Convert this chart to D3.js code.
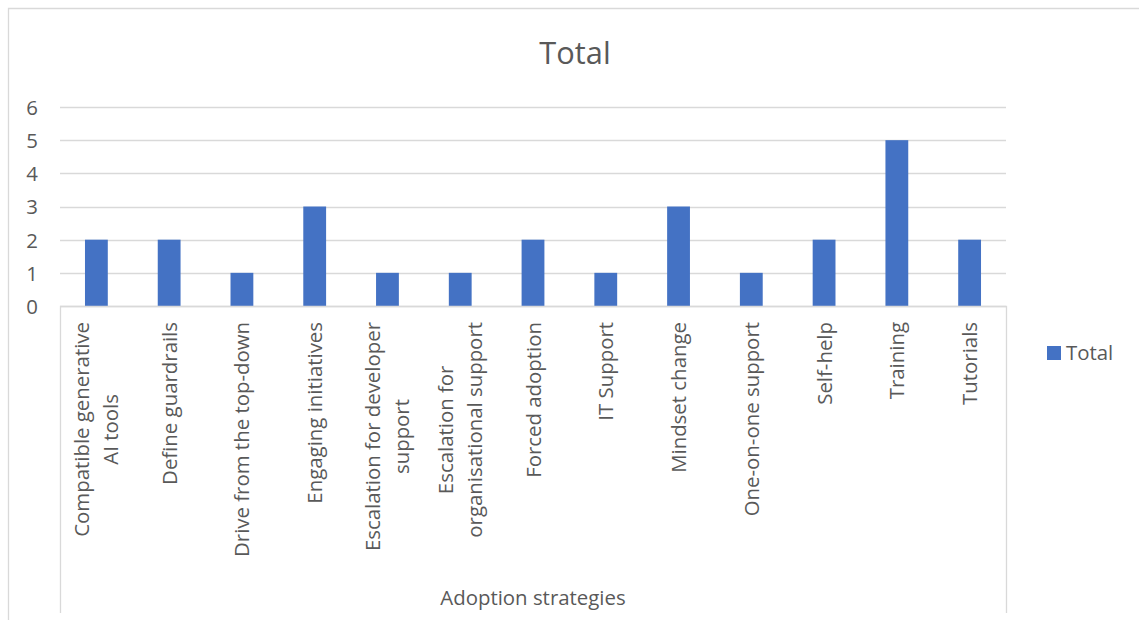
<!DOCTYPE html>
<html><head><meta charset="utf-8">
<script src="https://cdn.jsdelivr.net/npm/d3@7"></script>
<style>body{margin:0;background:#fff}svg{display:block}</style>
</head><body>
<script>
const categories = [
  ["Compatible generative","AI tools"],
  ["Define guardrails"],
  ["Drive from the top-down"],
  ["Engaging initiatives"],
  ["Escalation for developer","support"],
  ["Escalation for","organisational support"],
  ["Forced adoption"],
  ["IT Support"],
  ["Mindset change"],
  ["One-on-one support"],
  ["Self-help"],
  ["Training"],
  ["Tutorials"]
];
const totalValues = [2,2,1,3,1,1,2,1,3,1,2,5,2];
const yTicks = [0,1,2,3,4,5,6];
const seriesName = "Total";
const chartTitle = "Total";
const xTitle = "Adoption strategies";

const W = 1139, H = 620;
const FONT = "'Open Sans', sans-serif";
const TXT = "#595959", GRID = "#d9d9d9", BAR = "#4472C4";
const plot = {left: 60, right: 1006, top: 107, bottom: 306};

const svg = d3.select("body").append("svg").attr("width", W).attr("height", H);
svg.append("rect").attr("width", W).attr("height", H).attr("fill", "#fff");

// outer chart border
svg.append("path").attr("d", `M8.5,${H} V8.5 H${W}`).attr("fill","none").attr("stroke", GRID).attr("stroke-width", 1.3);

const keys = categories.map(c => c.join(" "));
const x = d3.scaleBand().domain(keys).range([plot.left, plot.right]).padding(0);
const y = d3.scaleLinear().domain([0, 6]).range([plot.bottom, plot.top]);

// gridlines
svg.append("g").selectAll("line").data(yTicks).join("line")
  .attr("x1", plot.left).attr("x2", plot.right)
  .attr("y1", d => Math.round(y(d)) + 0.5).attr("y2", d => Math.round(y(d)) + 0.5)
  .attr("stroke", GRID).attr("stroke-width", 1.3);

// y axis labels
const yAxis = d3.axisLeft(y).tickValues(yTicks).tickSize(0).tickPadding(0).tickFormat(d3.format("d"));
const yg = svg.append("g").attr("transform", `translate(38,0)`).call(yAxis);
yg.select(".domain").remove();
yg.selectAll("text").attr("fill", TXT).style("font-family", FONT).style("font-size", "20.4px").attr("dy", "0.36em");

// bars
const step = x.step();
const bw = step / 3.19;
svg.append("g").selectAll("rect").data(totalValues).join("rect")
  .attr("x", (d, i) => x(keys[i]) + (step - bw) / 2)
  .attr("width", bw)
  .attr("y", d => y(d))
  .attr("height", d => y(0) - y(d))
  .attr("fill", BAR);

// category box
svg.append("path").attr("d", `M${plot.left+0.5},613 V${plot.bottom+0.5} H${plot.right+0.5} V613`)
  .attr("fill","none").attr("stroke", GRID).attr("stroke-width", 1.3);

// category labels (rotated)
const labG = svg.append("g");
categories.forEach((lines, i) => {
  const cx = x(keys[i]) + step / 2;
  const g = labG.append("g");
  const texts = lines.map((ln, j) => g.append("text").text(ln)
    .attr("text-anchor", "middle")
    .attr("fill", TXT).style("font-family", FONT).style("font-size", "20.4px"));
  const maxW = d3.max(texts, t => t.node().getComputedTextLength());
  const n = lines.length;
  texts.forEach((t, j) => t.attr("x", 0).attr("y", (j - (n - 1) / 2) * 29 + 7.5));
  g.attr("transform", `translate(${cx},${322 + maxW / 2}) rotate(-90)`);
});

// title
svg.append("text").text(chartTitle).attr("x", 575).attr("y", 64)
  .attr("text-anchor","middle").attr("fill", TXT).style("font-family", FONT).style("font-size","30.8px");

// axis title
svg.append("text").text(xTitle).attr("x", (plot.left + plot.right) / 2).attr("y", 605)
  .attr("text-anchor","middle").attr("fill", TXT).style("font-family", FONT).style("font-size","20.4px");

// legend
svg.append("rect").attr("x", 1047).attr("y", 346).attr("width", 14).attr("height", 14).attr("fill", BAR);
svg.append("text").text(seriesName).attr("x", 1066).attr("y", 360)
  .attr("fill", TXT).style("font-family", FONT).style("font-size","20.4px");
</script>
</body></html>
